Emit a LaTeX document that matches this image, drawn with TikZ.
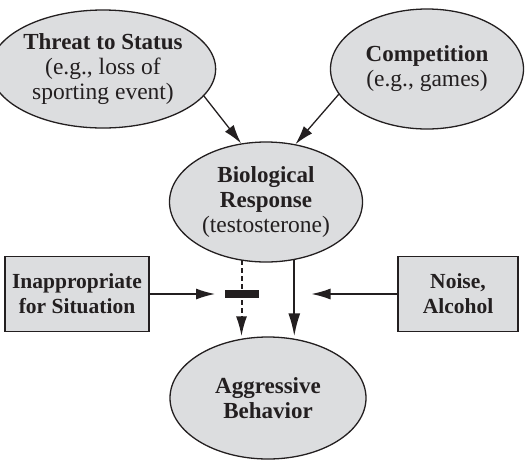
\documentclass[tikz,border=0pt]{standalone}
\usepackage{fontspec}
\setmainfont{Liberation Serif}
\usetikzlibrary{shapes.geometric,arrows.meta}
\definecolor{fillgray}{RGB}{220,221,223}
\definecolor{ink}{RGB}{35,31,32}
\newcommand{\bt}[1]{{\fontsize{23}{25}\selectfont\bfseries #1}}
\begin{document}
\begin{tikzpicture}[x=1pt,y=-1pt,
  oval/.style={ellipse, draw=ink, fill=fillgray, line width=1.3pt, inner sep=0pt,
    align=center, text=ink, font=\fontsize{23.5}{25}\selectfont},
  box/.style={rectangle, draw=ink, fill=fillgray, line width=1.4pt, inner sep=0pt,
    align=center, text=ink, font=\fontsize{21.5}{25}\selectfont\bfseries},
  arr/.style={-{Latex[length=19pt,width=11pt]}, line width=1.3pt, draw=ink},
]
\useasboundingbox (0,0) rectangle (525,459);

\node[oval, minimum width=190pt, minimum height=118pt] (threat) at (103,69)
  {\bt{Threat to Status}\\(e.g., loss of\\sporting event)};
\node[oval, minimum width=193pt, minimum height=120pt] (comp) at (427,69)
  {\bt{Competition}\\(e.g., games)};
\node[oval, minimum width=193pt, minimum height=120pt] (bio) at (266,202)
  {\bt{Biological}\\\bt{Response}\\(testosterone)};
\node[oval, minimum width=196pt, minimum height=122pt] (agg) at (268,398)
  {\bt{Aggressive}\\\bt{Behavior}};

\node[box, minimum width=144pt, minimum height=75pt] (inap) at (77,294)
  {Inappropriate\\for Situation};
\node[box, minimum width=120pt, minimum height=75pt] (noise) at (458,294)
  {Noise,\\Alcohol};

\node[rectangle, fill=ink, inner sep=0pt, minimum width=34pt, minimum height=8pt] (bar) at (241.5,294) {};
\coordinate (inapEnd) at (215,294);
\coordinate (noiseEnd) at (311.5,294);

\draw[arr] (threat.-15.5) -- (bio.113.4);
\draw[arr] (comp.-164) -- (bio.63.4);
\draw[arr] (inap.east) -- (inapEnd);
\draw[arr] (noise.west) -- (noiseEnd);
\draw[-{Latex[length=20pt,width=11pt]}, line width=2pt, draw=ink, dash pattern=on 5pt off 3pt]
  (bar |- bio.-114.5) -- (bar |- agg.north);
\draw[-{Latex[length=23pt,width=12pt]}, line width=2pt, draw=ink]
  (bio.-64.5) -- (bio.-64.5 |- agg.north);
\end{tikzpicture}
\end{document}
